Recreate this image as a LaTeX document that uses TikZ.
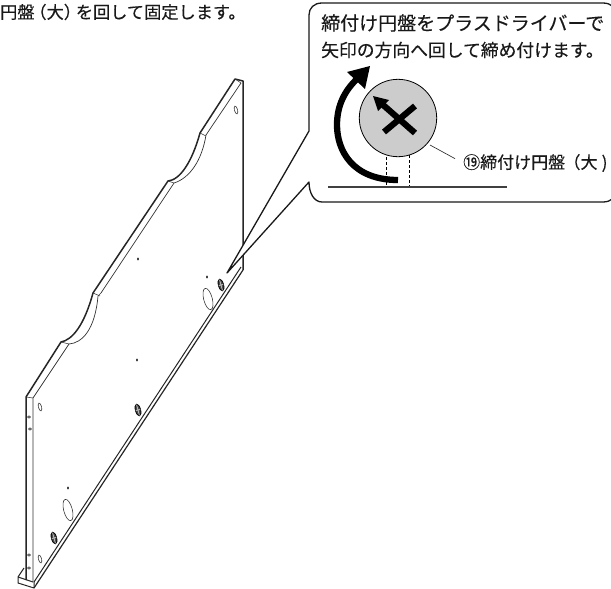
\documentclass[tikz,border=0pt]{standalone}
\usepackage{fontspec}
\setmainfont{Noto Sans CJK JP}[FakeBold=0.3]
\tikzset{
  panel/.style={draw=black!85,line width=1pt,line join=round},
  thinline/.style={draw=black!80,line width=0.55pt},
  hole/.style={draw=black!80,line width=0.6pt},
  disc/.style={draw=black,line width=0.8pt,fill=black!70},
  dot/.style={fill=black,draw=none},
  calloutline/.style={draw=black!90,line width=1.3pt,line join=round,fill=white},
  jp/.style={inner sep=0pt,text=black!90},
  dash1/.style={draw=black,line width=0.6pt,dash pattern=on 3pt off 2pt},
}
\begin{document}
\begin{tikzpicture}[x=1pt,y=-1pt]
\useasboundingbox (0,0) rectangle (611,589);
% panel outline
\draw[panel,line width=1.5pt] (26,580) -- (26,397) -- (61,342)
  .. controls (72,340) and (84,326) .. (93,293)
  -- (168,181) .. controls (180,180) and (192,162) .. (200,133)
  -- (235,79) -- (243,81) -- (243,270);
\draw[panel,line width=1.2pt] (243,270) -- (34,588);
\draw[thinline,line width=0.7pt] (33,582) -- (33,398) -- (69,344)
  .. controls (82,343) and (95,330) .. (98,296)
  -- (101,293) -- (174,183) .. controls (190,178) and (202,160) .. (206,135)
  -- (241,83);
\draw[thinline] (61,342) -- (69,344) (93,293) -- (100,296) (168,181) -- (174,183)
  (200,133) -- (206,136) (235,79) -- (241,83) (26,397) -- (33,398);
\draw[panel] (241,267) -- (34,582);
% foot
\draw[panel] (24,568) -- (18,577) -- (33,582) (18,577) -- (18,583) -- (34,588) -- (34,582);
% holes
\foreach \p/\q in {236/110,40/407,40/559}{
  \draw[hole,rotate around={15:(\p,\q)}] (\p,\q) ellipse [x radius=1.6,y radius=4];
}
\draw[hole,rotate around={15:(208,299)}] (208,299) ellipse [x radius=4.3,y radius=11];
\draw[hole,rotate around={15:(68,510)}] (68,510) ellipse [x radius=4.3,y radius=11];
\foreach \p/\q in {221/285,138/410,54/538}{
  \draw[disc,rotate around={15:(\p,\q)}] (\p,\q) ellipse [x radius=2.6,y radius=6];
  \draw[white,line width=0.4pt,rotate around={15:(\p,\q)}] (\p-2.5,\q) -- (\p+2.5,\q) (\p,\q-5.5) -- (\p,\q+5.5);
}
\foreach \p/\q in {207/277,138/259,137/360,68/488}{
  \fill[dot] (\p,\q) ellipse [x radius=0.9,y radius=1.6];
}
\foreach \p/\q in {29/417,30/429,29/555,29/568}{
  \draw[hole] (\p,\q) ellipse [x radius=1.5,y radius=1.2];
}
% callout
\draw[calloutline] (322,3) -- (603,3) .. controls (611,3) and (617,8) .. (617,16)
  -- (617,189) .. controls (617,197) and (611,202) .. (603,202) -- (322,202)
  .. controls (314,202) and (309,193) .. (309,182) -- (227,273) -- (309,131) -- (309,15)
  .. controls (309,8) and (314,3) .. (322,3) -- cycle;
% screw
\coordinate (centre) at (398,118);
\draw[draw=black,line width=0.8pt,fill=black!20] (centre) circle [radius=38.7];
\draw[line width=6.2pt,black] (384,132) -- (415,106);
\draw[line width=6.2pt,black] (415,133) -- (382,104);
\fill[black] (373,96) -- (378,111) -- (389,100) -- cycle;
% big arrow
\draw[line width=6.3pt,black] (398,180) .. controls (352,180) and (337,150) .. (337,125)
  .. controls (337,105) and (345,90) .. (358,78);
\fill[black] (370,66) -- (347,72) -- (365,89) -- cycle;
% ground and dashes
\draw[line width=2pt,black!75] (328,187) -- (507,187);
\draw[dash1] (386,157) -- (386,186);
\draw[dash1] (409,155) -- (409,186);
% texts
\node[jp,anchor=west,font=\fontsize{19}{20}\selectfont] (t1) at (321,23) {締付け円盤をプラスドライバーで};
\node[jp,anchor=west,font=\fontsize{17.8}{20}\selectfont] (t2) at (321,50) {矢印の方向へ回して締め付けます。};
\node[jp,anchor=west,font=\fontsize{17.2}{18}\selectfont] (t3) at (0,12) {円盤\kern-.3em（大）\kern-.3em を回して固定します。};
\node[jp,anchor=west,font=\fontsize{17}{19}\selectfont] (t4) at (463,163) {⑲締付け円盤\kern-.1em（大\kern.25em)};
\coordinate (lead) at (430,145);
\draw[line width=0.6pt,black!85,shorten >=9pt] (lead) -- (t4.west);
\end{tikzpicture}
\end{document}
